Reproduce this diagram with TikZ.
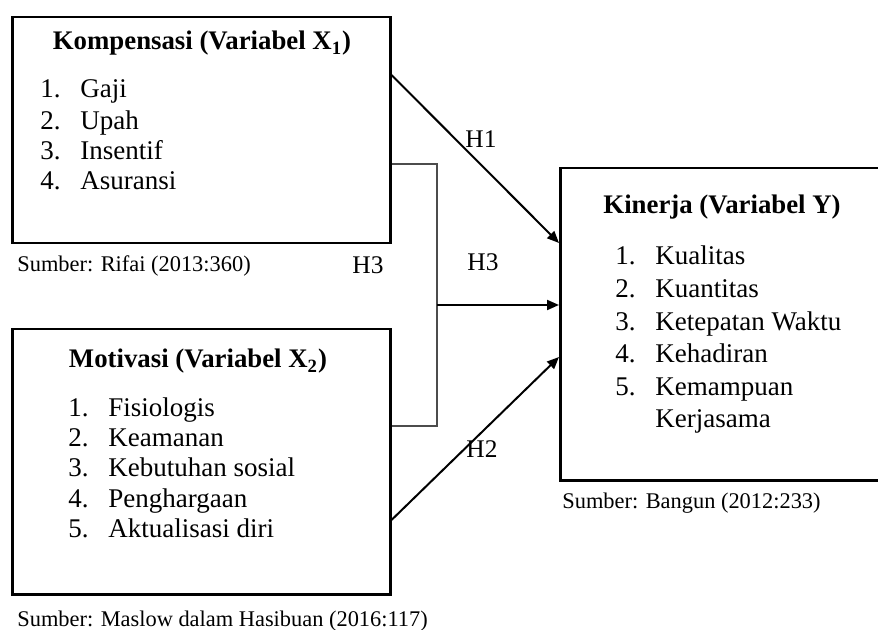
\documentclass[tikz,border=0pt]{standalone}
\usepackage{fontspec}
\setmainfont{Liberation Serif}
\usetikzlibrary{arrows.meta,calc}
\begin{document}
\begin{tikzpicture}[x=0.5pt,y=-0.5pt,
 box/.style={draw, line width=1.25pt, anchor=north west, inner sep=0pt},
 item/.style={anchor=base west, inner sep=0pt, font=\fontsize{13.5}{16}\selectfont},
 ttl/.style={anchor=base, inner sep=0pt, font=\fontsize{13.4}{16}\selectfont\bfseries},
 src/.style={anchor=base west, inner sep=0pt, font=\fontsize{11.2}{13}\selectfont},
 hlab/.style={inner sep=0pt, font=\fontsize{12.7}{15}\selectfont},
 conn/.style={line width=1pt, -{Triangle[length=6pt,width=5pt]}},
 brk/.style={line width=0.8pt, draw=black!70}]

\useasboundingbox (0,0) rectangle (878,630);

% boxes
\node[box, minimum width=189pt, minimum height=113pt] (b1) at (11,16) {};
\node[box, minimum width=189pt, minimum height=132.5pt] (b2) at (11,328) {};
\node[box, minimum width=170pt, minimum height=156pt] (b3) at (559,167) {};

% box 1
\node[ttl] (t1) at (202,50) {Kompensasi (Variabel X\textsubscript{1})};
\node[item] (n11) at (40,98) {1.};   \node[item] (i11) at (80,98) {Gaji};
\node[item] (n12) at (40,130) {2.};  \node[item] (i12) at (80,130) {Upah};
\node[item] (n13) at (40,160) {3.};  \node[item] (i13) at (80,160) {Insentif};
\node[item] (n14) at (40,190) {4.};  \node[item] (i14) at (80,190) {Asuransi};
\node[src] (s1) at (17,272) {Sumber: Rifai (2013:360)};

% box 2
\node[ttl] (t2) at (198,368) {Motivasi (Variabel X\textsubscript{2})};
\node[item] (n21) at (68,416) {1.};   \node[item] (i21) at (108,416) {Fisiologis};
\node[item] (n22) at (68,446.5) {2.}; \node[item] (i22) at (108,446.5) {Keamanan};
\node[item] (n23) at (68,477) {3.};   \node[item] (i23) at (108,477) {Kebutuhan sosial};
\node[item] (n24) at (68,507.5) {4.}; \node[item] (i24) at (108,507.5) {Penghargaan};
\node[item] (n25) at (68,538) {5.};   \node[item] (i25) at (108,538) {Aktualisasi diri};
\node[src] (s2) at (17,626) {Sumber: Maslow dalam Hasibuan (2016:117)};

% box 3
\node[ttl] (t3) at (722,214) {Kinerja (Variabel Y)};
\node[item] (n31) at (615,265) {1.};   \node[item] (i31) at (655,265) {Kualitas};
\node[item] (n32) at (615,297.6) {2.}; \node[item] (i32) at (655,297.6) {Kuantitas};
\node[item] (n33) at (615,330.2) {3.}; \node[item] (i33) at (655,330.2) {Ketepatan Waktu};
\node[item] (n34) at (615,362.8) {4.}; \node[item] (i34) at (655,362.8) {Kehadiran};
\node[item] (n35) at (615,395.4) {5.}; \node[item] (i35) at (655,395.4) {Kemampuan};
\node[item] (i36) at (655,428) {Kerjasama};
\node[src] (s3) at (562,509) {Sumber: Bangun (2012:233)};

% connectors
\coordinate (h1s) at ($(b1.north east)+(0,59)$);
\coordinate (h1e) at ($(b3.north west)+(0,76)$);
\draw[conn] (h1s) -- (h1e);

\coordinate (p1) at ($(b1.north east)+(0,148)$);
\coordinate (p2) at ($(b2.north east)+(0,98)$);
\coordinate (jt) at (437,164);
\coordinate (jb) at (437,426);
\coordinate (jm) at (437,305);
\draw[brk] (p1) -- (jt) -- (jb) -- (p2);
\coordinate (h3e) at ($(b3.north west)+(0,138)$);
\draw[conn] (jm) -- (h3e);

\coordinate (h2s) at ($(b2.north east)+(0,192)$);
\coordinate (h2e) at ($(b3.north west)+(0,190)$);
\draw[conn] (h2s) -- (h2e);

% labels
\node[hlab] (lh1) at (481,139) {H1};
\node[hlab] (lh3) at (483,262) {H3};
\node[hlab] (lh3b) at (368,265) {H3};
\node[hlab] (lh2) at (482,449) {H2};
\end{tikzpicture}
\end{document}
